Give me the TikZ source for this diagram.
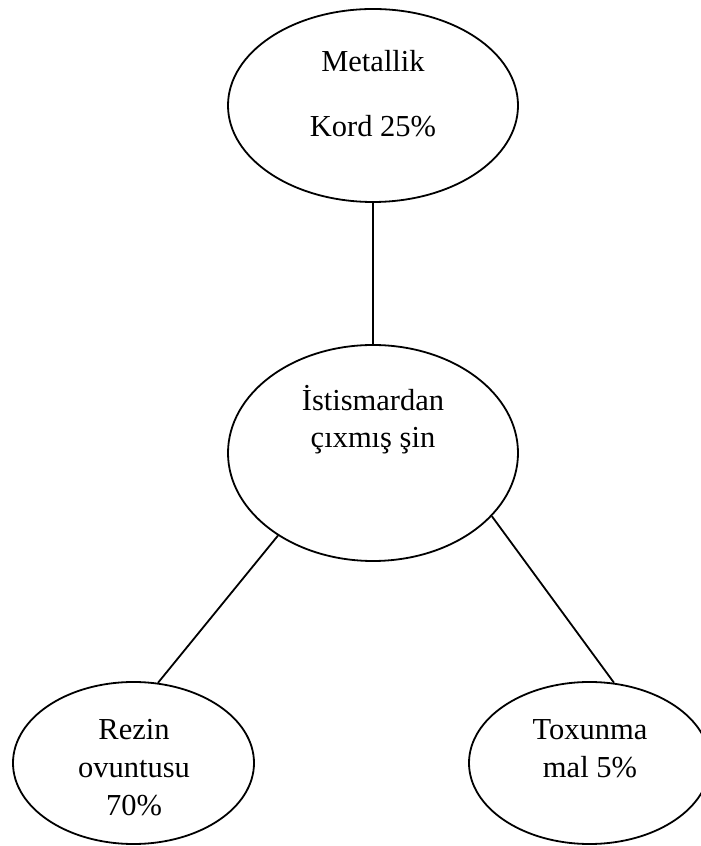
\documentclass[tikz,border=0pt]{standalone}
\usepackage{fontspec}
\setmainfont{Liberation Serif}
\usetikzlibrary{shapes.geometric}
\begin{document}
\begin{tikzpicture}[x=1pt,y=1pt,
  oval/.style={draw, ellipse, line width=1.8pt, inner sep=0pt},
  txt/.style={anchor=base, inner sep=0pt, font=\fontsize{30.5}{36}\selectfont},
  link/.style={draw, line width=1.8pt}]
\useasboundingbox (0,0) rectangle (701,846);
\begin{scope}
\clip (0,0) rectangle (701,846);
% component ovals
\node[oval, minimum width=290pt, minimum height=193pt] (metal) at (373,740.5) {};
\node[oval, minimum width=290pt, minimum height=216pt] (tyre)  at (373,393) {};
\node[oval, minimum width=241pt, minimum height=162pt] (rubber) at (133.5,83) {};
\node[oval, minimum width=241pt, minimum height=162pt] (textile) at (589.5,83) {};
\end{scope}
% labels
\node[txt] (t1) at (373,774) {Metallik};
\node[txt] (t2) at (373,709) {Kord 25\%};
\node[txt] (t3) at (373,435) {İstismardan};
\node[txt] (t4) at (373,398) {çıxmış şin};
\node[txt] (t5) at (134,106) {Rezin};
\node[txt] (t6) at (134,68) {ovuntusu};
\node[txt] (t7) at (134,30) {70\%};
\node[txt] (t8) at (590,106) {Toxunma};
\node[txt] (t9) at (590,68) {mal 5\%};
% connectors
\draw[link] (metal.south) -- (tyre.north);
\draw[link] (tyre.221.5) -- (rubber.73.8);
\draw[link] (tyre.332.9) -- (textile.73.8);
\end{tikzpicture}
\end{document}
